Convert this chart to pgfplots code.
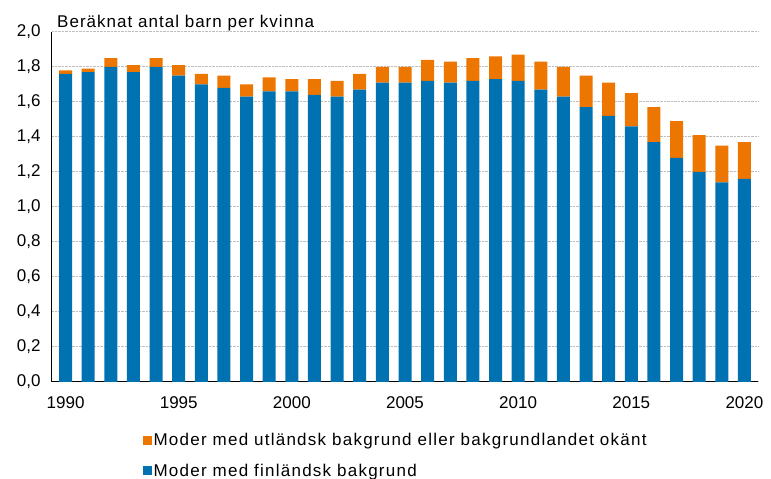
\documentclass[border=0pt]{standalone}
\usepackage{fontspec}
\setmainfont{Liberation Sans}
\newfontfamily\widefont[LetterSpace=6]{Liberation Sans}
\newfontfamily\legfont[LetterSpace=7.3]{Liberation Sans}
\usepackage{pgfplots}
\pgfplotsset{compat=1.18}
\usepackage{pgfplotstable}

\definecolor{finblue}{RGB}{0,114,178}
\definecolor{utlorange}{RGB}{236,118,0}
\definecolor{gridgray}{RGB}{190,190,190}

% year, moder med finländsk bakgrund, moder med utländsk bakgrund / okänt
\pgfplotstableread{
year fin utl
1990 1.76 0.02
1991 1.77 0.02
1992 1.80 0.05
1993 1.77 0.04
1994 1.80 0.05
1995 1.75 0.06
1996 1.70 0.06
1997 1.68 0.07
1998 1.63 0.07
1999 1.66 0.08
2000 1.66 0.07
2001 1.64 0.09
2002 1.63 0.09
2003 1.67 0.09
2004 1.71 0.09
2005 1.71 0.09
2006 1.72 0.12
2007 1.71 0.12
2008 1.72 0.13
2009 1.73 0.13
2010 1.72 0.15
2011 1.67 0.16
2012 1.63 0.17
2013 1.57 0.18
2014 1.52 0.19
2015 1.46 0.19
2016 1.37 0.20
2017 1.28 0.21
2018 1.20 0.21
2019 1.14 0.21
2020 1.16 0.21
}\tfrdata

\newcommand{\chfont}{\fontsize{17}{19}\selectfont}
\newcommand{\txfont}{\widefont\fontsize{17}{19}\selectfont}
\newcommand{\lgfont}{\legfont\fontsize{17}{19}\selectfont}

\begin{document}
\begin{tikzpicture}[x=1pt,y=1pt]
\useasboundingbox (0,0) rectangle (771,479);
\node[anchor=west, inner sep=0pt, font=\txfont] at (57,456) {Beräknat antal barn per kvinna};
\begin{axis}[
    at={(52pt,97pt)}, anchor=south west,
    scale only axis, width=706pt, height=350pt,
    ybar stacked, bar width=13pt,
    xmin=1989.4, xmax=2020.6,
    ymin=0, ymax=2,
    xtick={1990,1995,...,2020},
    ytick={0,0.2,...,2.01},
    major tick length=0pt,
    xticklabel style={/pgf/number format/1000 sep={}, yshift=-11pt},
    yticklabel style={xshift=-8pt, /pgf/number format/fixed, /pgf/number format/fixed zerofill,
      /pgf/number format/precision=1, /pgf/number format/use comma},
    tick label style={font=\chfont},
    /pgf/number format/assume math mode=true,
    axis x line*=bottom, axis y line*=left,
    axis line style={black, line width=1pt},
    ymajorgrids, grid style={gridgray, densely dotted, line width=1pt},
    legend style={draw=none, fill=none, font=\lgfont, at={(0.128,-0.14)}, anchor=north west,
      legend cell align=left, row sep=13pt, inner sep=0pt},
    legend image code/.code={\fill[#1] (0pt,-4.5pt) rectangle (9pt,4.5pt);},
    reverse legend,
]
\addplot[fill=finblue, draw=none] table[x=year, y=fin] {\tfrdata};
\addlegendentry{Moder med finländsk bakgrund}
\addplot[fill=utlorange, draw=none] table[x=year, y=utl] {\tfrdata};
\addlegendentry{Moder med utländsk bakgrund eller bakgrundlandet okänt}
\end{axis}
\end{tikzpicture}
\end{document}
